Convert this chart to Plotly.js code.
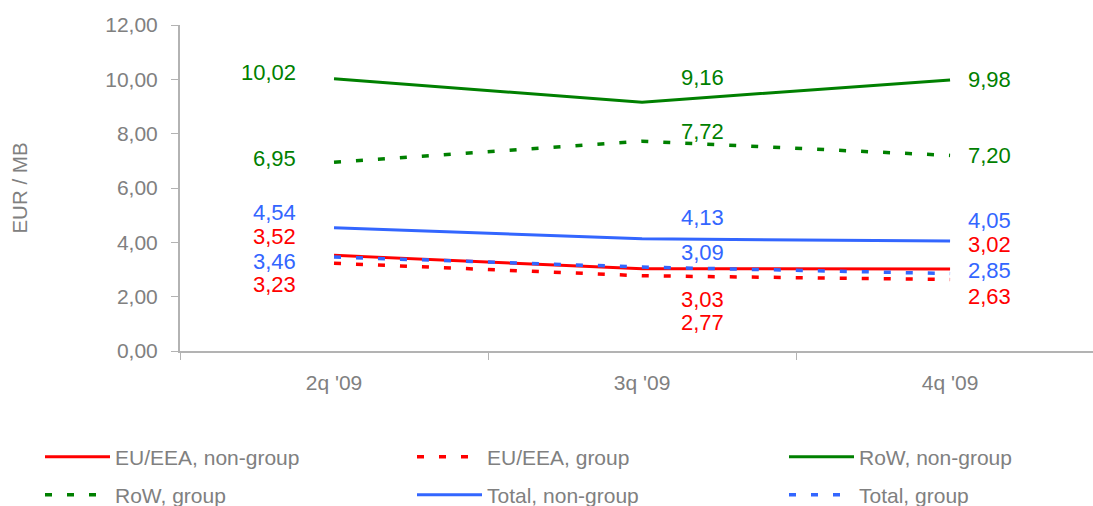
<!DOCTYPE html>
<html>
<head>
<meta charset="utf-8">
<script src="https://cdn.plot.ly/plotly-3.0.1.min.js"></script>
<style>html,body{margin:0;padding:0;background:#fff;}#chart{width:1093px;height:506px;}</style>
</head>
<body>
<div id="chart"></div>
<script>
var quarters = ["2q '09", "3q '09", "4q '09"];
var euNonGroup = [3.52, 3.03, 3.02];
var euGroup = [3.23, 2.77, 2.63];
var rowNonGroup = [10.02, 9.16, 9.98];
var rowGroup = [6.95, 7.72, 7.20];
var totalNonGroup = [4.54, 4.13, 4.05];
var totalGroup = [3.46, 3.09, 2.85];
var seriesNames = ["EU/EEA, non-group", "EU/EEA, group", "RoW, non-group", "RoW, group", "Total, non-group", "Total, group"];
var yTicks = [0, 2, 4, 6, 8, 10, 12];

var RED = '#FF0000', GREEN = '#008000', BLUE = '#3366FF', GREY = '#808080';
var DASH = '7px,15px';
var FONT = 'Liberation Sans, Arial, sans-serif';

function tr(name, y, color, dashed, legend) {
  return {
    type: 'scatter', mode: 'lines', name: name, x: quarters, y: y,
    line: {color: color, width: dashed ? 3.5 : 3, dash: dashed ? DASH : 'solid'},
    legend: legend, hoverinfo: 'skip'
  };
}
var data = [
  tr(seriesNames[0], euNonGroup, RED, false, 'legend'),
  tr(seriesNames[1], euGroup, RED, true, 'legend2'),
  tr(seriesNames[2], rowNonGroup, GREEN, false, 'legend3'),
  tr(seriesNames[3], rowGroup, GREEN, true, 'legend4'),
  tr(seriesNames[4], totalNonGroup, BLUE, false, 'legend5'),
  tr(seriesNames[5], totalGroup, BLUE, true, 'legend6')
];

var seriesVals = [euNonGroup, euGroup, rowNonGroup, rowGroup, totalNonGroup, totalGroup];
var seriesCols = [RED, RED, GREEN, GREEN, BLUE, BLUE];
var yShifts = [
  [20, -30, 25],
  [-20, -46, -16],
  [7, 26, 1.5],
  [5, 10.5, 1],
  [16, 22, 21],
  [-3, 16, 4]
];
var xCfg = [['right', -36], ['center', 60], ['left', 16]];
function fmt(v) { return v.toFixed(2).replace('.', ','); }
var annotations = [];
for (var s = 0; s < seriesVals.length; s++) {
  for (var q = 0; q < quarters.length; q++) {
    annotations.push({
      x: quarters[q], y: seriesVals[s][q], xref: 'x', yref: 'y',
      text: fmt(seriesVals[s][q]), showarrow: false,
      xanchor: xCfg[q][0], yanchor: 'middle',
      xshift: xCfg[q][1], yshift: yShifts[s][q] - 1,
      font: {family: FONT, size: 22, color: seriesCols[s]}
    });
  }
}

function leg(xpx, ypx) {
  return {
    orientation: 'h', xref: 'container', yref: 'container',
    x: xpx / 1093, y: 1 - ypx / 506,
    xanchor: 'left', yanchor: 'middle', itemwidth: 65,
    font: {family: FONT, size: 21, color: GREY},
    bgcolor: 'rgba(0,0,0,0)', borderwidth: 0
  };
}

var layout = {
  width: 1093, height: 506,
  margin: {l: 180, r: 0, t: 25, b: 155},
  paper_bgcolor: '#fff', plot_bgcolor: '#fff',
  separators: ', ',
  font: {family: FONT, color: GREY},
  showlegend: true,
  xaxis: {
    type: 'category', range: [-0.5, 2.464],
    tickson: 'boundaries', ticks: 'outside', ticklen: 7, tickcolor: '#b3b3b3',
    showline: true, linecolor: '#b3b3b3', linewidth: 2, showgrid: false, zeroline: false,
    tickfont: {family: FONT, size: 21, color: GREY}, ticklabelstandoff: 12
  },
  yaxis: {
    range: [0, 12], tickvals: yTicks, tickformat: '.2f',
    ticks: 'outside', ticklen: 7, tickcolor: '#b3b3b3',
    showline: true, linecolor: '#b3b3b3', linewidth: 2, showgrid: false, zeroline: false,
    tickfont: {family: FONT, size: 21, color: GREY}, ticklabelstandoff: 9,
    title: {text: 'EUR / MB', font: {family: FONT, size: 20.5, color: GREY}, standoff: 72}
  },
  legend: leg(40, 457),
  legend2: leg(412, 457),
  legend3: leg(784, 457),
  legend4: leg(40, 495),
  legend5: leg(412, 495),
  legend6: leg(784, 495),
  annotations: annotations
};

Plotly.newPlot('chart', data, layout, {displayModeBar: false, staticPlot: true});
</script>
</body>
</html>
